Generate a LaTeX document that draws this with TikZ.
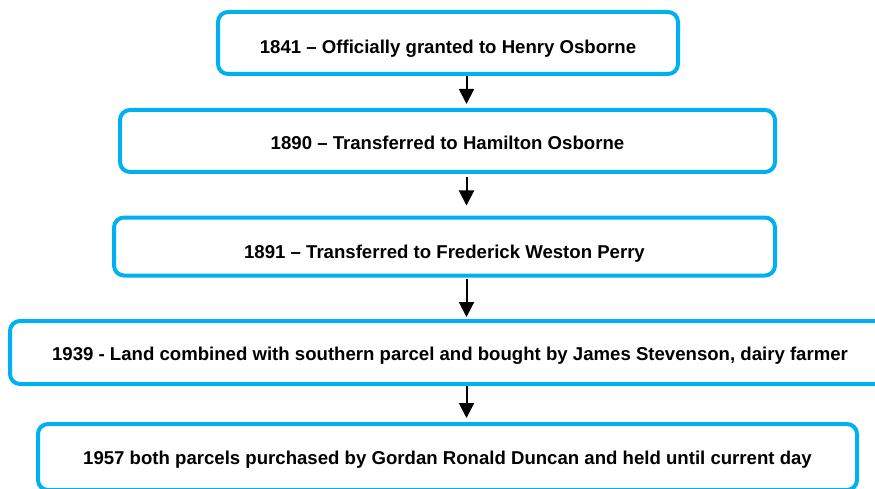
\documentclass[tikz,border=0pt]{standalone}
\usepackage{fontspec}
\setmainfont{Liberation Sans}
\usetikzlibrary{arrows.meta}
\definecolor{boxblue}{HTML}{00B0F0}
\tikzset{
  evbox/.style={draw=boxblue, line width=4pt, rounded corners=10pt, fill=white,
    inner sep=0pt, text depth=0pt, font=\fontsize{18.6}{22}\selectfont\bfseries},
  arr/.style={line width=2pt, -{Triangle[width=15pt,length=15pt]}}
}
\begin{document}
\begin{tikzpicture}[x=1pt,y=-1pt]
\useasboundingbox (0,0) rectangle (875,489);
\node[evbox, text height=22pt, minimum width=460pt, minimum height=62pt] (b1) at (448,43) {1841 – Officially granted to Henry Osborne};
\node[evbox, text height=18pt, minimum width=655pt, minimum height=62pt] (b2) at (447.5,141) {1890 – Transferred to Hamilton Osborne};
\node[evbox, text height=23pt, minimum width=661pt, minimum height=58pt] (b3) at (444.5,246.5) {1891 – Transferred to Frederick Weston Perry};
\node[evbox, text height=15pt, minimum width=880pt, minimum height=63pt] (b4) at (450,352.5) {1939 - Land combined with southern parcel and bought by James Stevenson, dairy farmer};
\node[evbox, text height=14pt, minimum width=819pt, minimum height=66pt] (b5) at (447.5,457) {1957 both parcels purchased by Gordan Ronald Duncan and held until current day};
\coordinate (ax) at (466.5,0);
\draw[arr, shorten >=4pt] (b1.south -| ax) -- (b2.north -| ax);
\draw[arr, shorten <=3pt, shorten >=10pt] (b2.south -| ax) -- (b3.north -| ax);
\draw[arr, shorten <=1pt, shorten >=2pt] (b3.south -| ax) -- (b4.north -| ax);
\draw[arr, shorten >=4pt] (b4.south -| ax) -- (b5.north -| ax);
\end{tikzpicture}
\end{document}
